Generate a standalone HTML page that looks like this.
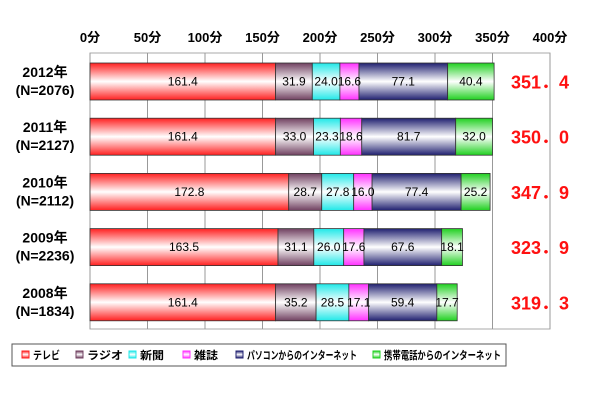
<!DOCTYPE html>
<html><head><meta charset="utf-8">
<style>
body{margin:0;background:#fff;font-family:"Liberation Sans","Noto Sans CJK JP",sans-serif;}
svg text{font-family:"Liberation Sans","Noto Sans CJK JP",sans-serif;}
</style></head><body>
<svg id="chart" width="610" height="400" viewBox="0 0 610 400" xmlns="http://www.w3.org/2000/svg">
<defs id="defs"></defs>
<g id="grid"></g><g id="bars"></g><g id="labels"></g><g id="legend"></g>
</svg>
<script>
const categories=["2012年","2011年","2010年","2009年","2008年"];
const sampleSizes=["(N=2076)","(N=2127)","(N=2112)","(N=2236)","(N=1834)"];
const seriesNames=["テレビ","ラジオ","新聞","雑誌","パソコンからのインターネット","携帯電話からのインターネット"];
const tv=[161.4,161.4,172.8,163.5,161.4];
const radio=[31.9,33.0,28.7,31.1,35.2];
const paper=[24.0,23.3,27.8,26.0,28.5];
const magazine=[16.6,18.6,16.0,17.6,17.1];
const pcNet=[77.1,81.7,77.4,67.6,59.4];
const mobileNet=[40.4,32.0,25.2,18.1,17.7];
const totals=["351．4","350．0","347．9","323．9","319．3"];
const ticks=[0,50,100,150,200,250,300,350,400];
const series=[tv,radio,paper,magazine,pcNet,mobileNet];
const colors=["#ff2020","#704060","#20e8e8","#ff30ff","#202070","#20d020"];
const ns="http://www.w3.org/2000/svg";
const X0=90,X1=550,TOP=53,BOT=329;
const x=v=>X0+(v/400)*(X1-X0);
const yBand=i=>63+i*55.2;
const BH=37;
function mk(tag,attrs,parent){const e=document.createElementNS(ns,tag);for(const k in attrs)e.setAttribute(k,attrs[k]);parent.appendChild(e);return e;}
const defs=document.getElementById('defs');
colors.forEach((c,i)=>{const g=mk('linearGradient',{id:'g'+i,x1:0,y1:0,x2:0,y2:1},defs);
mk('stop',{offset:'0',"stop-color":c},g);mk('stop',{offset:'0.5',"stop-color":'#ffffff'},g);mk('stop',{offset:'1',"stop-color":c},g);});
const grid=document.getElementById('grid');
mk('rect',{x:X0,y:TOP,width:X1-X0,height:BOT-TOP,fill:'none',stroke:'#aaa'},grid);
ticks.forEach(t=>{const l=mk('line',{x1:x(t),x2:x(t),y1:TOP,y2:BOT,stroke:'#999'},grid);


const tx=mk('text',{x:x(t),y:42,"text-anchor":'middle',"font-size":13,"font-weight":'bold'},grid);tx.textContent=t+'分';

});
const bars=document.getElementById('bars'),labels=document.getElementById('labels');
categories.forEach((cat,i)=>{let acc=0;const y=yBand(i);
series.forEach((s,j)=>{const v=s[i];const r=mk('rect',{x:x(acc),y:y,width:x(acc+v)-x(acc),height:BH,fill:'url(#g'+j+')',stroke:'#333',"stroke-width":0.8},bars);


const t=mk('text',{x:(x(acc)+x(acc+v))/2,y:y+BH/2+4,"text-anchor":'middle',"font-size":12},labels);t.textContent=v.toFixed(1);


acc+=v;});
const a=mk('text',{x:45,y:y+14,"text-anchor":'middle',"font-size":14,"font-weight":'bold'},labels);a.textContent=cat;


const b=mk('text',{x:45,y:y+32,"text-anchor":'middle',"font-size":14,"font-weight":'bold'},labels);b.textContent=sampleSizes[i];


const tt=mk('text',{x:540,y:y+BH/2+7,"text-anchor":'middle',"font-size":18,"font-weight":'bold',fill:'#ff1010'},labels);tt.textContent=totals[i];

});
const lg=document.getElementById('legend');
const box=mk('rect',{x:12,y:344,width:494,height:22,fill:'#fff',stroke:'#555'},lg);


const lx=[22,76,129,183,236,373];
const lw=[27,36,24,24,110,117];
seriesNames.forEach((n,j)=>{mk('rect',{x:lx[j],y:351,width:7,height:7,fill:'url(#g'+j+')',stroke:colors[j]},lg);
const t=mk('text',{x:lx[j]+11,y:359,"font-size":11,"font-weight":'bold',textLength:lw[j],lengthAdjust:'spacingAndGlyphs'},lg);t.textContent=n;

});
</script>
</body></html>
